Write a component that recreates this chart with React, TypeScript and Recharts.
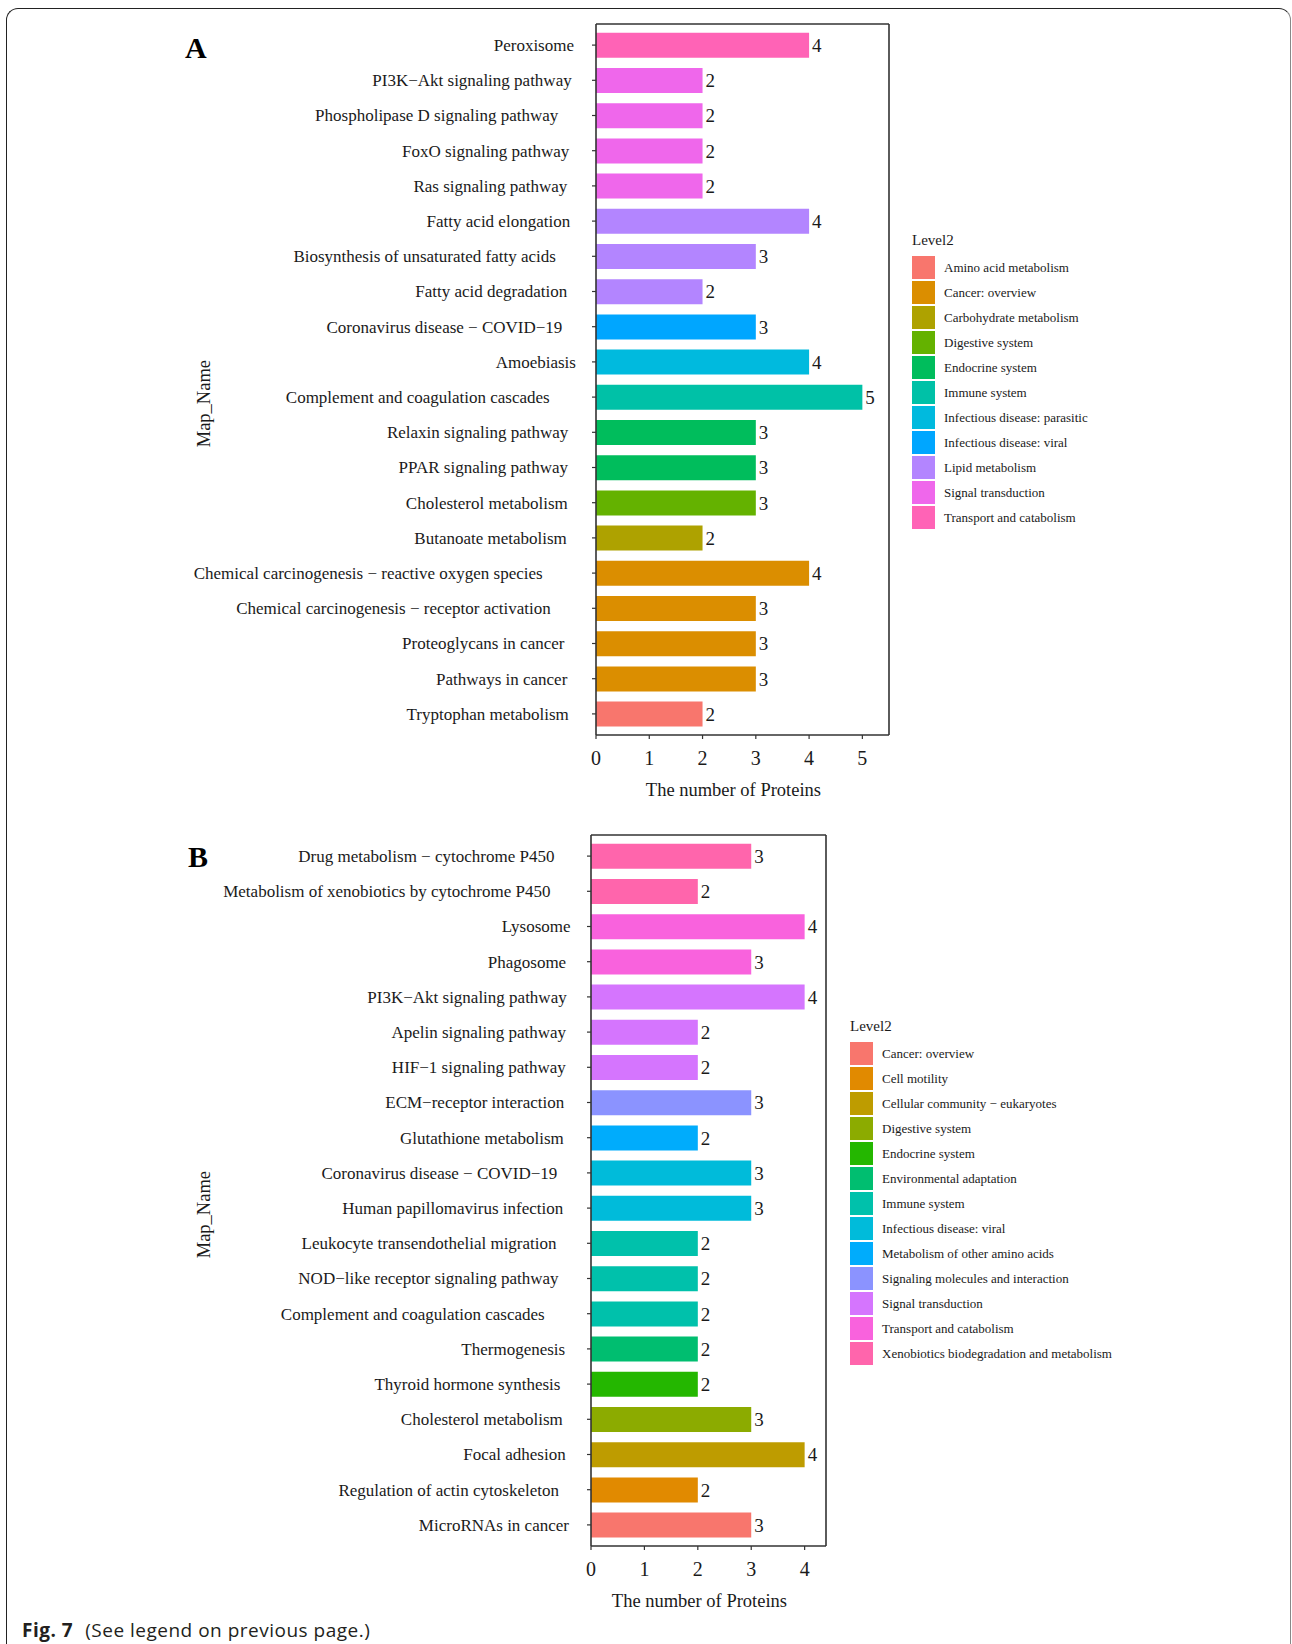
import React from "react";
import { BarChart, Bar, XAxis, YAxis, Cell, LabelList, Legend, CartesianGrid } from "recharts";

const SERIF = '"Liberation Serif", "Times New Roman", serif';
const INK = "#1a1a1a";
const AXIS = "#333333";

// ---- panel A ----
const A_NAMES = [
  "Peroxisome",
  "PI3K−Akt signaling pathway",
  "Phospholipase D signaling pathway",
  "FoxO signaling pathway",
  "Ras signaling pathway",
  "Fatty acid elongation",
  "Biosynthesis of unsaturated fatty acids",
  "Fatty acid degradation",
  "Coronavirus disease − COVID−19",
  "Amoebiasis",
  "Complement and coagulation cascades",
  "Relaxin signaling pathway",
  "PPAR signaling pathway",
  "Cholesterol metabolism",
  "Butanoate metabolism",
  "Chemical carcinogenesis − reactive oxygen species",
  "Chemical carcinogenesis − receptor activation",
  "Proteoglycans in cancer",
  "Pathways in cancer",
  "Tryptophan metabolism",
];
const A_VALUES = [4, 2, 2, 2, 2, 4, 3, 2, 3, 4, 5, 3, 3, 3, 2, 4, 3, 3, 3, 2];
const A_GROUPS = [
  "Transport and catabolism",
  "Signal transduction",
  "Signal transduction",
  "Signal transduction",
  "Signal transduction",
  "Lipid metabolism",
  "Lipid metabolism",
  "Lipid metabolism",
  "Infectious disease: viral",
  "Infectious disease: parasitic",
  "Immune system",
  "Endocrine system",
  "Endocrine system",
  "Digestive system",
  "Carbohydrate metabolism",
  "Cancer: overview",
  "Cancer: overview",
  "Cancer: overview",
  "Cancer: overview",
  "Amino acid metabolism",
];
const A_LEVELS = [
  "Amino acid metabolism",
  "Cancer: overview",
  "Carbohydrate metabolism",
  "Digestive system",
  "Endocrine system",
  "Immune system",
  "Infectious disease: parasitic",
  "Infectious disease: viral",
  "Lipid metabolism",
  "Signal transduction",
  "Transport and catabolism",
];
const A_COLORS = [
  "#F8766D", "#DB8E00", "#AEA200", "#64B200", "#00BD5C", "#00C1A7",
  "#00BADE", "#00A6FF", "#B385FF", "#EF67EB", "#FF63B6",
];
const A_TICKS = [0, 1, 2, 3, 4, 5];

// ---- panel B ----
const B_NAMES = [
  "Drug metabolism − cytochrome P450",
  "Metabolism of xenobiotics by cytochrome P450",
  "Lysosome",
  "Phagosome",
  "PI3K−Akt signaling pathway",
  "Apelin signaling pathway",
  "HIF−1 signaling pathway",
  "ECM−receptor interaction",
  "Glutathione metabolism",
  "Coronavirus disease − COVID−19",
  "Human papillomavirus infection",
  "Leukocyte transendothelial migration",
  "NOD−like receptor signaling pathway",
  "Complement and coagulation cascades",
  "Thermogenesis",
  "Thyroid hormone synthesis",
  "Cholesterol metabolism",
  "Focal adhesion",
  "Regulation of actin cytoskeleton",
  "MicroRNAs in cancer",
];
const B_VALUES = [3, 2, 4, 3, 4, 2, 2, 3, 2, 3, 3, 2, 2, 2, 2, 2, 3, 4, 2, 3];
const B_GROUPS = [
  "Xenobiotics biodegradation and metabolism",
  "Xenobiotics biodegradation and metabolism",
  "Transport and catabolism",
  "Transport and catabolism",
  "Signal transduction",
  "Signal transduction",
  "Signal transduction",
  "Signaling molecules and interaction",
  "Metabolism of other amino acids",
  "Infectious disease: viral",
  "Infectious disease: viral",
  "Immune system",
  "Immune system",
  "Immune system",
  "Environmental adaptation",
  "Endocrine system",
  "Digestive system",
  "Cellular community − eukaryotes",
  "Cell motility",
  "Cancer: overview",
];
const B_LEVELS = [
  "Cancer: overview",
  "Cell motility",
  "Cellular community − eukaryotes",
  "Digestive system",
  "Endocrine system",
  "Environmental adaptation",
  "Immune system",
  "Infectious disease: viral",
  "Metabolism of other amino acids",
  "Signaling molecules and interaction",
  "Signal transduction",
  "Transport and catabolism",
  "Xenobiotics biodegradation and metabolism",
];
const B_COLORS = [
  "#F8766D", "#E18A00", "#BE9C00", "#8CAB00", "#24B700", "#00BE70", "#00C1AB",
  "#00BBDA", "#00ACFC", "#8B93FF", "#D575FE", "#F962DD", "#FF65AC",
];
const B_TICKS = [0, 1, 2, 3, 4];

// the original was laid out with sans metrics but drawn in a serif face,
// so text is positioned using the sans width
let measureCtx: CanvasRenderingContext2D | null = null;
function sansWidth(s: string, size: number) {
  if (!measureCtx) measureCtx = document.createElement("canvas").getContext("2d");
  if (!measureCtx) return s.length * size * 0.55;
  measureCtx.font = `${size}px "Liberation Sans", Arial, sans-serif`;
  return measureCtx.measureText(s).width;
}

function CatTick(props: any) {
  const { x, y, payload } = props;
  const s = String(payload.value);
  return (
    <text x={x - sansWidth(s, 17)} y={y} dy="0.35em" textAnchor="start" fontFamily={SERIF} fontSize={17} fill={INK}>
      {s}
    </text>
  );
}

function NumTick(props: any) {
  const { x, y, payload } = props;
  return (
    <text x={x} y={y} dy={24} textAnchor="middle" fontFamily={SERIF} fontSize={20} fill={INK}>
      {payload.value}
    </text>
  );
}

function ValueLabel(props: any) {
  const { x, y, width, height, value } = props;
  return (
    <text x={x + width + 3} y={y + height / 2} dy="0.35em" textAnchor="start" fontFamily={SERIF} fontSize={19} fill={INK}>
      {value}
    </text>
  );
}

function XTitle(props: any) {
  const vb = props.viewBox || {};
  const s = "The number of Proteins";
  const cx = vb.x + vb.width / 2;
  return (
    <text x={cx - sansWidth(s, 18.5) / 2} y={vb.y + 60.5} textAnchor="start" fontFamily={SERIF} fontSize={18.5} fill={INK}>
      {s}
    </text>
  );
}

function YTitle(props: any) {
  const vb = props.viewBox || {};
  const s = "Map_Name";
  const cy = vb.y + vb.height / 2 + 20;
  const start = cy + sansWidth(s, 18.5) / 2;
  return (
    <text transform={`translate(210, ${start}) rotate(-90)`} textAnchor="start" fontFamily={SERIF} fontSize={18.5} fill={INK}>
      {s}
    </text>
  );
}

function LevelLegend({ levels, colors }: { levels: string[]; colors: string[] }) {
  return (
    <div style={{ fontFamily: SERIF, color: INK, textAlign: "left" }}>
      <div style={{ fontSize: 15, height: 16, lineHeight: "16px", marginBottom: 7, whiteSpace: "nowrap" }}>Level2</div>
      {levels.map((l, i) => (
        <div key={l} style={{ display: "flex", alignItems: "center", height: 25 }}>
          <div style={{ width: 22.5, height: 23, background: colors[i], marginRight: 9.5, flex: "none" }} />
          <span style={{ fontSize: 13, whiteSpace: "nowrap" }}>{l}</span>
        </div>
      ))}
    </div>
  );
}

function Panel(props: {
  names: string[];
  values: number[];
  groups: string[];
  levels: string[];
  colors: string[];
  ticks: number[];
  xMax: number;
  axisX: number;
  plotRight: number;
  legendLeft: number;
  legendTop: number;
}) {
  const data = props.names.map((name, i) => ({ name, value: props.values[i], group: props.groups[i] }));
  const line = { stroke: AXIS, strokeWidth: 1.6 };
  return (
    <BarChart
      width={1292}
      height={820}
      data={data}
      layout="vertical"
      barCategoryGap="15%"
      margin={{ top: 24, right: 1292 - props.plotRight, bottom: 15, left: 0 }}
    >
      {/* top and right edges of the panel border */}
      <CartesianGrid
        stroke={AXIS}
        strokeWidth={1.6}
        horizontalCoordinatesGenerator={(a: any) => [a.offset.top]}
        verticalCoordinatesGenerator={(a: any) => [a.offset.left + a.offset.width]}
      />
      <XAxis
        type="number"
        domain={[0, props.xMax]}
        ticks={props.ticks}
        allowDataOverflow
        height={70}
        tickSize={4}
        tickMargin={2}
        axisLine={line}
        tickLine={{ stroke: AXIS, strokeWidth: 1.2 }}
        tick={<NumTick />}
        label={{ content: (p: any) => <XTitle {...p} /> }}
      />
      <YAxis
        type="category"
        dataKey="name"
        width={props.axisX}
        interval={0}
        padding={{ top: 3.5, bottom: 3.5 }}
        tickSize={4}
        tickMargin={8.5}
        axisLine={line}
        tickLine={{ stroke: AXIS, strokeWidth: 1.2 }}
        tick={<CatTick />}
        label={{ content: (p: any) => <YTitle {...p} /> }}
      />
      <Legend
        layout="vertical"
        align="center"
        verticalAlign="middle"
        wrapperStyle={{ left: props.legendLeft, top: props.legendTop, width: 300 }}
        content={() => <LevelLegend levels={props.levels} colors={props.colors} />}
      />
      <Bar dataKey="value" isAnimationActive={false}>
        {data.map((d) => (
          <Cell key={d.name} fill={props.colors[props.levels.indexOf(d.group)]} />
        ))}
        <LabelList dataKey="value" content={(p: any) => <ValueLabel {...p} />} />
      </Bar>
    </BarChart>
  );
}

export default function App() {
  return (
    <div style={{ position: "absolute", left: 0, top: 0, width: 1292, height: 1644, overflow: "hidden", background: "#fff" }}>
      <div
        style={{
          position: "absolute",
          left: 6,
          top: 8,
          width: 1285,
          height: 1650,
          boxSizing: "border-box",
          border: "1.5px solid #222",
          borderRightColor: "#888",
          borderRadius: 12,
        }}
      />
      <div style={{ position: "absolute", left: 0, top: 0 }}>
        <Panel
          names={A_NAMES}
          values={A_VALUES}
          groups={A_GROUPS}
          levels={A_LEVELS}
          colors={A_COLORS}
          ticks={A_TICKS}
          xMax={5.5}
          axisX={596}
          plotRight={889}
          legendLeft={912}
          legendTop={232}
        />
      </div>
      <div style={{ position: "absolute", left: 0, top: 811 }}>
        <Panel
          names={B_NAMES}
          values={B_VALUES}
          groups={B_GROUPS}
          levels={B_LEVELS}
          colors={B_COLORS}
          ticks={B_TICKS}
          xMax={4.4}
          axisX={591}
          plotRight={826}
          legendLeft={850}
          legendTop={207}
        />
      </div>
      <svg width={1292} height={1644} style={{ position: "absolute", left: 0, top: 0, pointerEvents: "none" }}>
        <text x={185} y={58} fontFamily={SERIF} fontWeight="bold" fontSize={30} fill="#000">A</text>
        <text x={188} y={867} fontFamily={SERIF} fontWeight="bold" fontSize={30} fill="#000">B</text>
        <text
          x={22}
          y={1637}
          fontFamily="'Open Sans', 'Noto Sans', sans-serif"
          fontSize={19}
          letterSpacing={0.5}
          fill="#231f20"
        >
          <tspan fontWeight="bold">Fig. 7</tspan>
          <tspan dx={12}>(See legend on previous page.)</tspan>
        </text>
      </svg>
    </div>
  );
}
